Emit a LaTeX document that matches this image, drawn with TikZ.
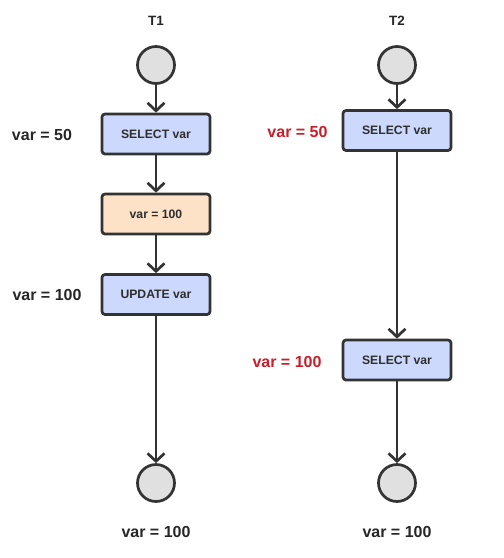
\documentclass[tikz,border=0pt]{standalone}
\usepackage{fontspec}
\setmainfont{Liberation Sans}
\usetikzlibrary{arrows.meta}
\definecolor{ln}{HTML}{333333}
\definecolor{bluefill}{HTML}{CCD9FC}
\definecolor{orfill}{HTML}{FDE2C8}
\definecolor{circfill}{HTML}{E0E0E0}
\definecolor{redtxt}{HTML}{C81E2A}
\tikzset{
  every node/.style={font=\bfseries},
  opbox/.style={draw=ln, line width=2.7pt, rounded corners=3pt, fill=bluefill, minimum width=108pt, minimum height=40pt, inner sep=0pt, font=\bfseries\fontsize{12.2}{14}\selectfont, text=ln!90!black},
  orbox/.style={opbox, fill=orfill},
  endpt/.style={circle, draw=ln, line width=2.7pt, fill=circfill, minimum size=37pt, inner sep=0pt},
  flow/.style={draw=ln, line width=2.7pt, -{Straight Barb[length=8pt, width=17pt, line width=2.7pt]}},
  lbl/.style={font=\bfseries\fontsize{16}{18}\selectfont, text=black!85},
  rlbl/.style={lbl, text=redtxt},
  title/.style={font=\bfseries\fontsize{13.5}{15}\selectfont, text=black!85}
}
\begin{document}
\begin{tikzpicture}[x=1pt, y=-1pt]
\useasboundingbox (0,0) rectangle (504,558);
% T1
\node[title] (t1) at (156,21) {T1};
\node[endpt] (s1) at (156,65) {};
\node[opbox] (a1) at (156,134) {SELECT var};
\node[orbox] (a2) at (156,214) {var = 100};
\node[opbox] (a3) at (156,294.5) {UPDATE var};
\node[endpt] (e1) at (156,483) {};
\node[lbl] (l1) at (42,135) {var = 50};
\node[lbl] (l2) at (47,295) {var = 100};
\node[lbl] (b1) at (156,532) {var = 100};
\draw[flow] (s1) -- (a1);
\draw[flow] (a1) -- (a2);
\draw[flow] (a2) -- (a3);
\draw[flow] (a3) -- (e1);
% T2
\node[title] (t2) at (397,21) {T2};
\node[endpt] (s2) at (397,65) {};
\node[opbox] (c1) at (397,130.5) {SELECT var};
\node[opbox] (c2) at (397,360) {SELECT var};
\node[endpt] (e2) at (397,483) {};
\node[rlbl] (r1) at (297.5,132) {var = 50};
\node[rlbl] (r2) at (287,362) {var = 100};
\node[lbl] (b2) at (397,532) {var = 100};
\draw[flow] (s2) -- (c1);
\draw[flow] (c1) -- (c2);
\draw[flow] (c2) -- (e2);
\end{tikzpicture}
\end{document}
